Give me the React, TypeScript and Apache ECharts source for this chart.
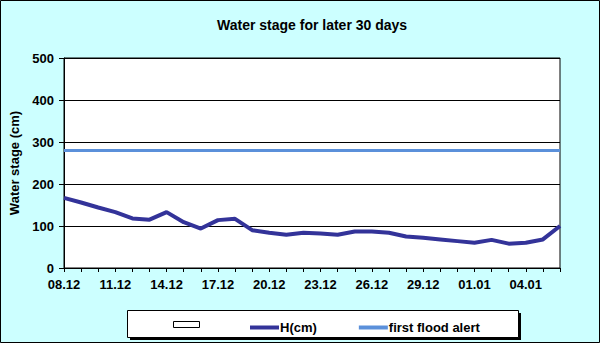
import React, { useEffect, useRef } from "react";
import * as echarts from "echarts";

const dates = [
  "08.12", "09.12", "10.12", "11.12", "12.12", "13.12", "14.12", "15.12", "16.12", "17.12",
  "18.12", "19.12", "20.12", "21.12", "22.12", "23.12", "24.12", "25.12", "26.12", "27.12",
  "28.12", "29.12", "30.12", "31.12", "01.01", "02.01", "03.01", "04.01", "05.01", "06.01",
];
const waterStage = [
  167, 156, 144, 133, 118, 115, 133, 109, 94, 114,
  117, 90, 84, 79, 84, 82, 79, 87, 87, 84,
  75, 72, 68, 64, 60, 67, 58, 60, 68, 100,
];
const floodAlert = dates.map(() => 280);
const yTicks = [0, 100, 200, 300, 400, 500];

const FONT = "Arial, 'Liberation Sans', sans-serif";

export default function App() {
  const ref = useRef<HTMLDivElement>(null);
  useEffect(() => {
    if (!ref.current) return;
    const chart = echarts.init(ref.current, null, { renderer: "svg" });
    chart.setOption({
      animation: false,
      backgroundColor: "#CCFFFF",
      title: {
        text: "Water stage for later 30 days",
        left: 212,
        top: 13,
        textStyle: { fontFamily: FONT, fontSize: 14, fontWeight: "bold", color: "#000" },
      },
      grid: {
        left: 64,
        right: 40,
        top: 58,
        bottom: 75,
        show: true,
        backgroundColor: "#FFFFFF",
        borderColor: "#000",
        borderWidth: 1,
      },
      xAxis: {
        type: "category",
        data: dates,
        boundaryGap: false,
        axisLine: { lineStyle: { color: "#000", width: 1 } },
        axisTick: { show: true, interval: 0, length: 4, inside: false, lineStyle: { color: "#000" } },
        axisLabel: {
          interval: 2,
          color: "#000",
          fontFamily: FONT,
          fontSize: 13,
          fontWeight: "bold",
          margin: 10,
        },
      },
      yAxis: {
        type: "value",
        min: yTicks[0],
        max: yTicks[yTicks.length - 1],
        interval: 100,
        name: "Water stage (cm)",
        nameLocation: "middle",
        nameGap: 40,
        nameTextStyle: { fontFamily: FONT, fontSize: 13, fontWeight: "bold", color: "#000" },
        axisLine: { show: true, lineStyle: { color: "#000", width: 1 } },
        axisTick: { show: true, length: 5, lineStyle: { color: "#000" } },
        splitLine: { show: true, lineStyle: { color: "#000", width: 1 } },
        axisLabel: {
          color: "#000",
          fontFamily: FONT,
          fontSize: 13,
          fontWeight: "bold",
          margin: 10,
        },
      },
      legend: {
        left: 245,
        top: 316,
        itemWidth: 29,
        itemHeight: 4,
        itemGap: 42,
        textStyle: { fontFamily: FONT, fontSize: 13, fontWeight: "bold", color: "#000", padding: [0, 0, 0, -4] },
        data: [
          { name: "H(cm)", icon: "rect" },
          { name: "first flood alert", icon: "rect" },
        ],
      },
      graphic: [
        {
          type: "rect",
          shape: { x: 0.5, y: 0.5, width: 599, height: 342 },
          style: { fill: "none", stroke: "#000", lineWidth: 1 },
          z: 100,
        },
        {
          type: "rect",
          shape: { x: 130, y: 313, width: 391, height: 27 },
          style: { fill: "#000" },
          z: 0,
          silent: true,
        },
        {
          type: "rect",
          shape: { x: 127.5, y: 310.5, width: 391, height: 27 },
          style: { fill: "#FFF", stroke: "#000", lineWidth: 1 },
          z: 1,
          silent: true,
        },
        {
          type: "rect",
          shape: { x: 173.5, y: 321.5, width: 26, height: 6 },
          style: { fill: "#FFF", stroke: "#000", lineWidth: 1 },
          z: 2,
          silent: true,
        },
      ],
      series: [
        {
          name: "H(cm)",
          type: "line",
          data: waterStage,
          symbol: "none",
          lineStyle: { color: "#333399", width: 4 },
          itemStyle: { color: "#333399" },
          z: 5,
        },
        {
          name: "first flood alert",
          type: "line",
          data: floodAlert,
          symbol: "none",
          lineStyle: { color: "#5B90DA", width: 3 },
          itemStyle: { color: "#5B90DA" },
          z: 4,
        },
      ],
    });
    return () => chart.dispose();
  }, []);
  return (
    <div
      ref={ref}
      style={{ position: "absolute", left: 0, top: 0, width: 600, height: 343 }}
    />
  );
}
